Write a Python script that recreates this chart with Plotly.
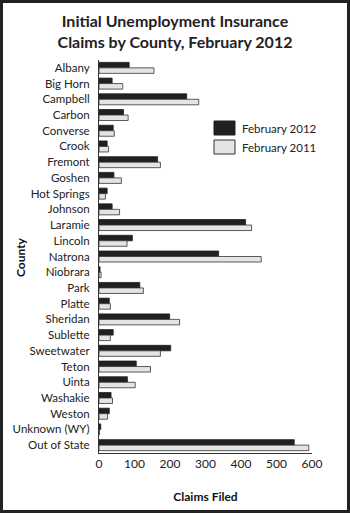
import plotly.graph_objects as go

# Initial unemployment insurance claims by county (Wyoming)
counties = ["Albany", "Big Horn", "Campbell", "Carbon", "Converse", "Crook",
            "Fremont", "Goshen", "Hot Springs", "Johnson", "Laramie", "Lincoln",
            "Natrona", "Niobrara", "Park", "Platte", "Sheridan", "Sublette",
            "Sweetwater", "Teton", "Uinta", "Washakie", "Weston",
            "Unknown (WY)", "Out of State"]
feb_2012 = [85, 37, 247, 69, 40, 23, 165, 42, 23, 37, 413, 94, 337, 3, 115,
            29, 199, 40, 202, 105, 80, 34, 29, 5, 550]
feb_2011 = [155, 67, 281, 82, 43, 27, 173, 63, 18, 58, 430, 79, 457, 6, 125,
            32, 227, 32, 173, 145, 102, 38, 24, 1, 591]
x_ticks = [0, 100, 200, 300, 400, 500, 600]

W, H = 350, 513
L, R, T, B = 99, 312, 60, 453  # plot area in pixels

def px(x):
    return (x - L) / (R - L)

def py(y):
    return (B - y) / (B - T)

FONT = "Lato"
DARK = "#231f20"
LIGHT = "#e4e4e4"

fig = go.Figure()
fig.add_trace(go.Bar(y=counties, x=feb_2012, orientation="h", name="February 2012",
                     marker=dict(color=DARK, line=dict(color=DARK, width=0.8))))
fig.add_trace(go.Bar(y=counties, x=feb_2011, orientation="h", name="February 2011",
                     marker=dict(color=LIGHT, line=dict(color="#333333", width=0.8))))

shapes = [
    # outer frame
    dict(type="rect", xref="paper", yref="paper",
         x0=px(1.5), x1=px(W - 1.5), y0=py(H - 1.5), y1=py(1.5),
         line=dict(color="#222222", width=3), fillcolor="rgba(0,0,0,0)", layer="below"),
    # legend swatches
    dict(type="rect", xref="paper", yref="paper",
         x0=px(214), x1=px(235), y0=py(135), y1=py(121),
         line=dict(color=DARK, width=1), fillcolor=DARK),
    dict(type="rect", xref="paper", yref="paper",
         x0=px(214), x1=px(235), y0=py(154), y1=py(140),
         line=dict(color="#333333", width=1), fillcolor=LIGHT),
]

annotations = [
    dict(text="February 2012", x=px(240), y=py(128), xref="paper", yref="paper",
         xanchor="left", yanchor="middle", showarrow=False,
         font=dict(family=FONT, size=11.5, color="#222222")),
    dict(text="February 2011", x=px(240), y=py(147), xref="paper", yref="paper",
         xanchor="left", yanchor="middle", showarrow=False,
         font=dict(family=FONT, size=11.5, color="#222222")),
    dict(text="County", x=px(20), y=py(257), xref="paper", yref="paper",
         textangle=-90, xanchor="center", yanchor="middle", showarrow=False,
         font=dict(family=FONT, size=12, color="#111111", weight="bold")),
]

fig.update_layout(
    width=W, height=H,
    margin=dict(l=L, r=W - R, t=T, b=H - B, pad=0),
    paper_bgcolor="white", plot_bgcolor="white",
    barmode="group", bargap=0.3, bargroupgap=0.0,
    showlegend=False,
    title=dict(text="Initial Unemployment Insurance<br>Claims by County, February 2012",
               x=0.5, xanchor="center", y=1 - 27 / H, yanchor="middle",
               font=dict(family=FONT, size=16, color="#222222", weight="bold")),
    xaxis=dict(range=[0, 600], tickvals=x_ticks, showgrid=False, zeroline=False,
               showline=True, linecolor="#333333", linewidth=1, automargin=False,
               ticks="", tickfont=dict(family=FONT, size=12, color="#222222"),
               title=dict(text="Claims Filed", standoff=22,
                          font=dict(family=FONT, size=12, color="#111111", weight="bold"))),
    yaxis=dict(autorange="reversed", showgrid=False, zeroline=False, automargin=False,
               showline=True, linecolor="#333333", linewidth=1, ticks="",
               ticklabelstandoff=6,
               tickfont=dict(family=FONT, size=11.5, color="#222222")),
    shapes=shapes, annotations=annotations,
)

fig.write_html("out.html")
